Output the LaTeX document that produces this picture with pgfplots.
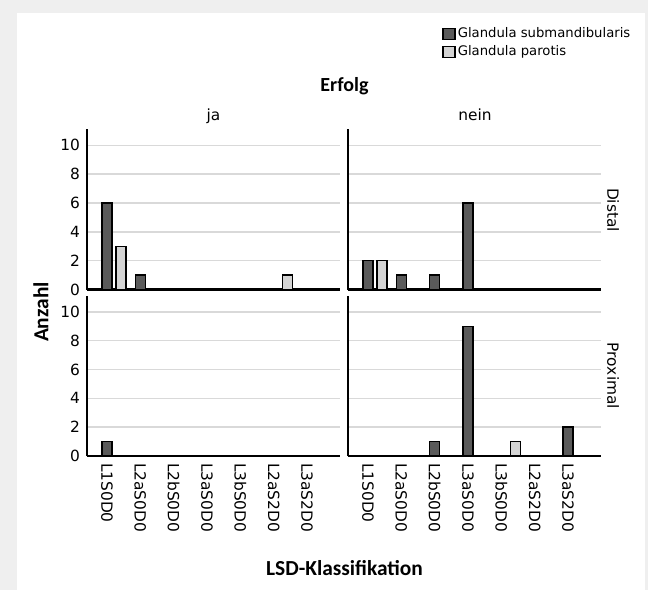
\documentclass[border=0pt]{standalone}
\usepackage{fontspec}
\setmainfont{DejaVu Sans}
\newfontfamily\titlefont{Carlito}
\usepackage{pgfplots}
\pgfplotsset{compat=1.18}

\definecolor{subm}{HTML}{5A5A5A}
\definecolor{paro}{HTML}{D4D4D4}
\definecolor{gridc}{HTML}{D9D9D9}
\definecolor{framec}{HTML}{EFEFEF}

\newcommand{\tickfont}{\fontsize{7.7pt}{9pt}\selectfont}
\newcommand{\headfont}{\titlefont\bfseries\fontsize{10pt}{12pt}\selectfont}
\newcommand{\bigheadfont}{\titlefont\bfseries\fontsize{10.7pt}{12pt}\selectfont}

% one 2x2 facet, 1px of the reference = 0.5pt
\pgfplotsset{
  panel/.style={
    scale only axis, width=126.65pt, height=80pt,
    anchor=south west,
    xmin=-0.6, xmax=7.0, ymin=0, ymax=11.1,
    xtick={0,...,6}, ytick={0,2,...,10},
    major tick length=0pt,
    axis x line*=bottom, axis y line*=left,
    axis line style={-, line width=1.1pt},
    ymajorgrids, grid style={gridc, line width=0.8pt},
    tick label style={font=\tickfont},
    /pgf/number format/assume math mode=true,
    xticklabels={},
  },
  sub/.style={ybar, bar width=5pt, bar shift=0pt, fill=subm, draw=black, line width=0.7pt},
  par/.style={ybar, bar width=5pt, bar shift=7pt, fill=paro, draw=black, line width=0.7pt},
  catlabels/.style={
    xticklabels={L1S0D0,L2aS0D0,L2bS0D0,L3aS0D0,L3bS0D0,L2aS2D0,L3aS2D0},
    xticklabel style={rotate=-90, anchor=west},
  },
}

\begin{document}
\begin{tikzpicture}
\fill[framec] (0pt,0pt) rectangle (324pt,295pt);
\fill[white] (8.5pt,0pt) rectangle (322.5pt,288.5pt);

% Erfolg = ja, Distal
\begin{axis}[panel, at={(43.5pt,150.25pt)}]
\addplot[sub] coordinates {(0,6) (1,1)};
\addplot[par] coordinates {(0,3) (5,1)};
\end{axis}

% Erfolg = nein, Distal
\begin{axis}[panel, at={(174pt,150.25pt)}, yticklabels={},
  legend style={at={(0.371,1.653)}, anchor=north west, draw=none, fill=none,
    inner sep=0pt, row sep=0.5pt,
    font=\fontsize{6.6pt}{8pt}\selectfont,
    nodes={inner sep=1pt, text height=5pt, text depth=1.5pt}},
  legend cell align=left,
  legend image code/.code={\draw[#1] (0pt,-2.75pt) rectangle (6pt,2.75pt);},
]
\addplot[sub] coordinates {(0,2) (1,1) (2,1) (3,6)};
\addlegendentry{Glandula submandibularis}
\addplot[par] coordinates {(0,2)};
\addlegendentry{Glandula parotis}
\end{axis}

% Erfolg = ja, Proximal
\begin{axis}[panel, catlabels, at={(43.5pt,67pt)}]
\addplot[sub] coordinates {(0,1)};
\end{axis}

% Erfolg = nein, Proximal
\begin{axis}[panel, catlabels, at={(174pt,67pt)}, yticklabels={}]
\addplot[sub] coordinates {(2,1) (3,9) (6,2)};
\addplot[par] coordinates {(4,1)};
\end{axis}

\node[font=\headfont, anchor=base] at (172.25pt,249pt) {Erfolg};
\node[font=\tickfont, anchor=base] at (106.75pt,234.5pt) {ja};
\node[font=\tickfont, anchor=base] at (237.5pt,234.5pt) {nein};
\node[font=\tickfont, rotate=-90] at (306.5pt,190pt) {Distal};
\node[font=\tickfont, rotate=-90] at (306.5pt,107pt) {Proximal};
\node[font=\bigheadfont, rotate=90] at (20.5pt,139pt) {Anzahl};
\node[font=\bigheadfont] at (172.25pt,11pt) {LSD-Klassifikation};
\end{tikzpicture}
\end{document}
